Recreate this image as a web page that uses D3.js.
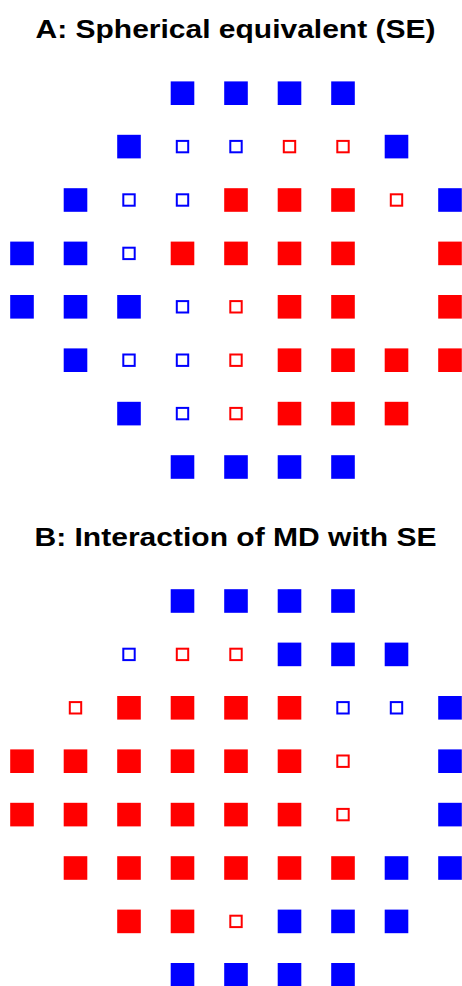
<!DOCTYPE html>
<html>
<head>
<meta charset="utf-8">
<script src="https://cdn.jsdelivr.net/npm/d3@7"></script>
<style>
  html, body { margin: 0; padding: 0; background: #fff; }
  svg { display: block; }
</style>
</head>
<body>
<svg id="chart" width="462" height="986"></svg>
<script>
// Visual field locations (24-2 layout, 8 rows x 9 columns).
// Codes: 2 = significant positive, 1 = non-significant positive,
// -1 = non-significant negative, -2 = significant negative, null = no location.
const columns = [1, 2, 3, 4, 5, 6, 7, 8, 9];
const rows = [1, 2, 3, 4, 5, 6, 7, 8];

const panelTitles = ["A: Spherical equivalent (SE)", "B: Interaction of MD with SE"];

const seValues = [
  [null, null, null, -2, -2, -2, -2, null, null],
  [null, null, -2, -1, -1, 1, 1, -2, null],
  [null, -2, -1, -1, 2, 2, 2, 1, -2],
  [-2, -2, -1, 2, 2, 2, 2, null, 2],
  [-2, -2, -2, -1, 1, 2, 2, null, 2],
  [null, -2, -1, -1, 1, 2, 2, 2, 2],
  [null, null, -2, -1, 1, 2, 2, 2, null],
  [null, null, null, -2, -2, -2, -2, null, null]
];

const mdSeValues = [
  [null, null, null, -2, -2, -2, -2, null, null],
  [null, null, -1, 1, 1, -2, -2, -2, null],
  [null, 1, 2, 2, 2, 2, -1, -1, -2],
  [2, 2, 2, 2, 2, 2, 1, null, -2],
  [2, 2, 2, 2, 2, 2, 1, null, -2],
  [null, 2, 2, 2, 2, 2, 2, -2, -2],
  [null, null, 2, 2, 1, -2, -2, -2, null],
  [null, null, null, -2, -2, -2, -2, null, null]
];

const panels = [
  { title: panelTitles[0], values: seValues, top: 0, titleWidth: 400 },
  { title: panelTitles[1], values: mdSeValues, top: 507.8, titleWidth: 402 }
];

const svg = d3.select("#chart");

const x = d3.scalePoint().domain(columns).range([22, 450]);
const y = d3.scalePoint().domain(rows).range([93.2, 467]);

const color = v => (v > 0 ? "#ff0000" : "#0000ff");
const bigSize = 23.6;
const smallSize = 11.4;

panels.forEach(panel => {
  const g = svg.append("g").attr("transform", `translate(0,${panel.top})`);

  g.append("text")
    .attr("x", 235.5)
    .attr("y", 38)
    .attr("text-anchor", "middle")
    .attr("textLength", panel.titleWidth)
    .attr("lengthAdjust", "spacingAndGlyphs")
    .style("font-family", "'Liberation Sans', Arial, Helvetica, sans-serif")
    .style("font-weight", "bold")
    .style("font-size", "26px")
    .attr("fill", "#000")
    .text(panel.title);

  const cells = [];
  panel.values.forEach((row, i) => {
    row.forEach((v, j) => {
      if (v !== null) cells.push({ row: rows[i], col: columns[j], value: v });
    });
  });

  g.selectAll("rect.cell")
    .data(cells)
    .join("rect")
    .attr("class", "cell")
    .each(function (d) {
      const big = Math.abs(d.value) === 2;
      const s = big ? bigSize : smallSize;
      d3.select(this)
        .attr("x", x(d.col) - s / 2)
        .attr("y", y(d.row) - s / 2)
        .attr("width", s)
        .attr("height", s)
        .attr("fill", big ? color(d.value) : "none")
        .attr("stroke", big ? "none" : color(d.value))
        .attr("stroke-width", big ? 0 : 2);
    });
});
</script>
</body>
</html>
